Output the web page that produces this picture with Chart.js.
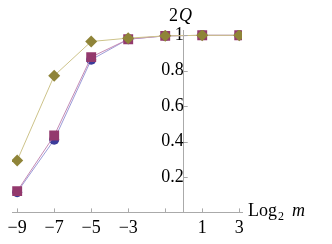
<!DOCTYPE html>
<html>
<head>
<meta charset="utf-8">
<script src="https://cdn.jsdelivr.net/npm/chart.js@4"></script>
<style>
  html, body { margin: 0; padding: 0; background: #fff; }
  #wrap { width: 332px; height: 244px; }
</style>
</head>
<body>
<div id="wrap"><canvas id="qChart" width="332" height="244"></canvas></div>
<script>
// values
let xValues = [-9, -7, -5, -3, -1, 1, 3],
    circleValues = [0.114, 0.41, 0.862, 0.978, 0.997, 1, 1],
    squareValues = [0.12, 0.434, 0.877, 0.978, 0.997, 1, 1],
    diamondValues = [0.293, 0.772, 0.965, 0.984, 0.997, 1, 1],
    xTicks = [-9, -7, -5, -3, -1, 1, 3],
    yTicks = [0.2, 0.4, 0.6, 0.8, 1];

const serif = '"Liberation Serif", "DejaVu Serif", serif';

function toPoints(ys) {
    return xValues.map(function (x, i) { return { x: x, y: ys[i] }; });
}

// Mathematica style: ticks go inward, and the axis labels are drawn by hand
const axisDecor = {
    id: 'axisDecor',
    afterDraw(chart) {
        let ctx = chart.ctx,
            xs = chart.scales.x,
            ys = chart.scales.y,
            x0 = xs.getPixelForValue(0),
            y0 = ys.getPixelForValue(0);

        ctx.save();
        ctx.strokeStyle = '#aaaaaa';
        ctx.lineWidth = 1;
        ctx.beginPath();
        xTicks.forEach(function (v) {
            let px = Math.round(xs.getPixelForValue(v)) + 0.5;
            ctx.moveTo(px, y0);
            ctx.lineTo(px, y0 - 4);
        });
        yTicks.forEach(function (v) {
            let py = Math.round(ys.getPixelForValue(v)) + 0.5;
            ctx.moveTo(x0, py);
            ctx.lineTo(x0 + 4, py);
        });
        ctx.stroke();

        ctx.fillStyle = '#000';
        ctx.textBaseline = 'alphabetic';
        ctx.textAlign = 'left';

        // y label: 2 Q
        ctx.font = '18px ' + serif;
        ctx.fillText('2', 169, 21);
        ctx.font = 'italic 18px ' + serif;
        ctx.fillText('Q', 179, 21);

        // x label: Log2 m
        ctx.font = '18px ' + serif;
        ctx.fillText('Log', 248, 216);
        let w = ctx.measureText('Log').width;
        ctx.font = '12px ' + serif;
        ctx.fillText('2', 248 + w + 1, 220);
        ctx.font = 'italic 18px ' + serif;
        ctx.fillText('m', 292, 216);
        ctx.restore();
    }
};

function setChart() {
    let ctx = document.getElementById('qChart'),
        myChart = new Chart(ctx, {
            type: 'line',
            data: {
                datasets: [{
                    data: toPoints(diamondValues),
                    borderColor: '#cdc38a',
                    backgroundColor: '#8f8438',
                    pointStyle: 'rectRot',
                    pointRadius: 6,
                    borderWidth: 1,
                    pointBorderWidth: 0,
                    order: 0
                }, {
                    data: toPoints(squareValues),
                    borderColor: '#c48ab4',
                    backgroundColor: '#93396d',
                    pointStyle: 'rect',
                    pointRadius: 7,
                    borderWidth: 1,
                    pointBorderWidth: 0,
                    order: 1
                }, {
                    data: toPoints(circleValues),
                    borderColor: '#9c9cd8',
                    backgroundColor: '#3b3b9a',
                    pointStyle: 'circle',
                    pointRadius: 5,
                    borderWidth: 1,
                    pointBorderWidth: 0,
                    order: 2
                }]
            },
            options: {
                responsive: false,
                animation: false,
                events: [],
                layout: { padding: { left: 12, right: 90, top: 30, bottom: 0 } },
                plugins: {
                    legend: { display: false },
                    tooltip: { enabled: false }
                },
                scales: {
                    x: {
                        type: 'linear',
                        min: -9.28,
                        max: 3.15,
                        grid: { display: false, drawTicks: false },
                        border: { display: true, color: '#aaaaaa', width: 1 },
                        afterBuildTicks: function (scale) {
                            scale.ticks = xTicks.map(function (v) { return { value: v }; });
                        },
                        ticks: {
                            padding: 5,
                            autoSkip: false,
                            maxRotation: 0,
                            color: '#000',
                            font: { family: serif, size: 18 },
                            callback: function (v) {
                                if (v === -1) return '';
                                return v < 0 ? '\u2212' + Math.abs(v) : String(v);
                            }
                        }
                    },
                    y: {
                        type: 'linear',
                        position: { x: 0 },
                        min: 0,
                        max: 1.03,
                        grid: { display: false, drawTicks: false },
                        border: { display: true, color: '#aaaaaa', width: 1 },
                        afterBuildTicks: function (scale) {
                            scale.ticks = yTicks.map(function (v) { return { value: v }; });
                        },
                        ticks: {
                            padding: 6,
                            color: '#000',
                            font: { family: serif, size: 18 },
                            callback: function (v) { return String(v); }
                        }
                    }
                }
            },
            plugins: [axisDecor]
        });
}

setChart();
</script>
</body>
</html>
